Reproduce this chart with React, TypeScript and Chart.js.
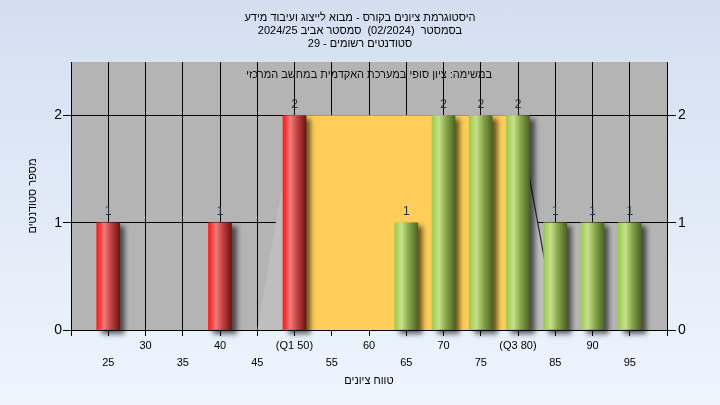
import React, { useEffect, useRef } from 'react';
import { Chart, registerables } from 'chart.js';

Chart.register(...registerables);

// ---- text ----
const TITLE_LINES = [
  'היסטוגרמת ציונים בקורס - מבוא לייצוג ועיבוד מידע',
  'בסמסטר  (02/2024)  סמסטר אביב 2024/25',
  'סטודנטים רשומים - 29',
];
const PLOT_NOTE = 'במשימה: ציון סופי במערכת האקדמית במחשב המרכזי';
const X_AXIS_TITLE = 'טווח ציונים';
const Y_AXIS_TITLE = 'מספר סטודנטים';

// ---- data ----
const GRADES = [25, 40, 50, 65, 70, 75, 80, 85, 90, 95];
const COUNTS = [1, 1, 2, 1, 2, 2, 2, 1, 1, 1];
const FAIL_BELOW = 55;

const X_TICKS = [20, 25, 30, 35, 40, 45, 50, 55, 60, 65, 70, 75, 80, 85, 90, 95, 100];
const X_TICK_LABELS = ['', '25', '30', '35', '40', '45', '(Q1 50)', '55', '60', '65', '70', '75', '(Q3 80)', '85', '90', '95', ''];
const Y_TICKS = [0, 1, 2];

const QUARTILE_X = [50, 80];
const QUARTILE_Y = [2, 2];

const CURVE_X = [45, 50, 80, 85.3];
const CURVE_Y = [0, 2, 2, 0];

// ---- style ----
const FONT = "'Liberation Sans', Arial, sans-serif";
const BAR_W = 23;
const RED_STOPS: [number, string][] = [
  [0, '#ff1a1a'], [0.1, '#ff3030'], [0.32, '#f27c7c'], [0.6, '#c44444'], [1, '#701212'],
];
const GREEN_STOPS: [number, string][] = [
  [0, '#9ccb4e'], [0.3, '#c6e18c'], [0.6, '#8aa84a'], [1, '#4a6424'],
];

function cylinder(ctx: CanvasRenderingContext2D, x0: number, x1: number, stops: [number, string][]) {
  const g = ctx.createLinearGradient(x0, 0, x1, 0);
  stops.forEach(([o, c]) => g.addColorStop(o, c));
  return g;
}

const shadowPlugin = {
  id: 'barShadow',
  beforeDatasetDraw(chart: any, args: any) {
    if (args.meta.type === 'bar') {
      const c = chart.ctx;
      c.save();
      c.shadowColor = 'rgba(0,0,0,0.6)';
      c.shadowBlur = 5;
      c.shadowOffsetX = 5;
      c.shadowOffsetY = 4;
    }
  },
  afterDatasetDraw(chart: any, args: any) {
    if (args.meta.type === 'bar') chart.ctx.restore();
  },
};

const decorPlugin = {
  id: 'decor',
  beforeDraw(chart: any) {
    const { ctx, chartArea: a } = chart;
    ctx.save();
    ctx.fillStyle = '#b4b4b4';
    ctx.fillRect(a.left, a.top, a.right - a.left, a.bottom - a.top);
    ctx.restore();
  },
  afterDatasetsDraw(chart: any) {
    const { ctx, chartArea: a } = chart;
    const meta = chart.getDatasetMeta(0);
    ctx.save();
    ctx.font = `12px ${FONT}`;
    ctx.fillStyle = '#223344';
    ctx.textAlign = 'center';
    ctx.textBaseline = 'bottom';
    meta.data.forEach((el: any, i: number) => {
      ctx.fillText(String(COUNTS[i]), el.x, el.y - 5);
    });
    ctx.direction = 'rtl';
    ctx.font = `11px ${FONT}`;
    ctx.fillStyle = '#111';
    ctx.textBaseline = 'middle';
    ctx.fillText(PLOT_NOTE, (a.left + a.right) / 2, a.top + 13);
    ctx.restore();
  },
  afterDraw(chart: any) {
    const { ctx } = chart;
    ctx.save();
    ctx.direction = 'rtl';
    ctx.font = `11px ${FONT}`;
    ctx.fillStyle = '#000';
    ctx.textAlign = 'center';
    ctx.textBaseline = 'middle';
    TITLE_LINES.forEach((t, i) => ctx.fillText(t, 360, 18 + i * 13));
    ctx.restore();
  },
};

export default function App() {
  const ref = useRef<HTMLCanvasElement>(null);
  useEffect(() => {
    if (!ref.current) return;
    const chart = new Chart(ref.current, {
      type: 'bar',
      data: {
        datasets: [
          {
            type: 'bar',
            data: GRADES.map((g, i) => ({ x: g, y: COUNTS[i] })),
            barThickness: BAR_W,
            borderWidth: 0,
            clip: false,
            order: 1,
            backgroundColor: (c: any) => {
              const ch = c.chart;
              const xs = ch.scales && ch.scales.x;
              if (!ch.chartArea || !xs || !c.raw) return '#c33';
              const px = xs.getPixelForValue(c.raw.x);
              return cylinder(ch.ctx, px - BAR_W / 2, px + BAR_W / 2, c.raw.x < FAIL_BELOW ? RED_STOPS : GREEN_STOPS);
            },
          } as any,
          {
            type: 'line',
            data: QUARTILE_X.map((x, i) => ({ x, y: QUARTILE_Y[i] })),
            backgroundColor: '#ffcd58',
            borderColor: 'transparent',
            borderWidth: 0,
            pointRadius: 0,
            fill: 'origin',
            order: 2,
          } as any,
          {
            type: 'line',
            data: CURVE_X.map((x, i) => ({ x, y: CURVE_Y[i] })),
            backgroundColor: '#bebebe',
            borderColor: 'transparent',
            borderWidth: 1.2,
            segment: { borderColor: (c: any) => (c.p0DataIndex === 2 ? '#2a2a2a' : 'transparent') },
            pointRadius: 0,
            fill: 'origin',
            tension: 0,
            order: 3,
          } as any,
        ],
      },
      options: {
        responsive: false,
        maintainAspectRatio: false,
        devicePixelRatio: 1,
        animation: false,
        layout: { padding: { top: 62, left: 0, right: 0, bottom: 0 } },
        plugins: { legend: { display: false }, tooltip: { enabled: false }, title: { display: false } },
        scales: {
          x: {
            type: 'linear',
            min: 20,
            max: 100,
            offset: false,
            afterBuildTicks: (s: any) => { s.ticks = X_TICKS.map((v) => ({ value: v })); },
            afterFit: (s: any) => { s.height = 75; },
            ticks: {
              autoSkip: false,
              maxRotation: 0,
              padding: 2,
              color: '#000',
              font: { family: FONT, size: 11, lineHeight: 1.5 },
              callback: (v: any) => {
                const idx = X_TICKS.indexOf(Number(v));
                const lbl = X_TICK_LABELS[idx] ?? '';
                return idx % 2 === 0 ? [lbl, ''] : ['', lbl];
              },
            },
            grid: { color: '#000', lineWidth: 1, tickLength: 6, offset: false },
            border: { color: '#000' },
            title: { display: true, text: X_AXIS_TITLE, color: '#000', font: { family: FONT, size: 11 }, padding: { top: 0, bottom: 17 } },
          },
          y: {
            position: 'left',
            min: 0,
            max: 2.5,
            afterBuildTicks: (s: any) => { s.ticks = Y_TICKS.map((v) => ({ value: v })); },
            afterFit: (s: any) => { s.width = 71; },
            ticks: { padding: 1, color: '#000', font: { family: FONT, size: 14 } },
            grid: { color: '#000', lineWidth: 1, tickLength: 8 },
            border: { color: '#000' },
            title: { display: true, text: Y_AXIS_TITLE, color: '#000', font: { family: FONT, size: 11 }, padding: { top: 26, bottom: 0 } },
          },
          y2: {
            position: 'right',
            min: 0,
            max: 2.5,
            afterBuildTicks: (s: any) => { s.ticks = Y_TICKS.map((v) => ({ value: v })); },
            afterFit: (s: any) => { s.width = 53; },
            ticks: { padding: 2, color: '#000', font: { family: FONT, size: 14 } },
            grid: { drawOnChartArea: false, color: '#000', lineWidth: 1, tickLength: 9 },
            border: { color: '#000' },
          },
        },
      } as any,
      plugins: [shadowPlugin, decorPlugin],
    });
    return () => chart.destroy();
  }, []);

  return (
    <div
      style={{
        position: 'fixed',
        left: 0,
        top: 0,
        width: 720,
        height: 405,
        background: 'linear-gradient(to bottom, #d3dff1, #eef5fd)',
      }}
    >
      <canvas ref={ref} width={720} height={405} style={{ display: 'block' }} />
    </div>
  );
}
